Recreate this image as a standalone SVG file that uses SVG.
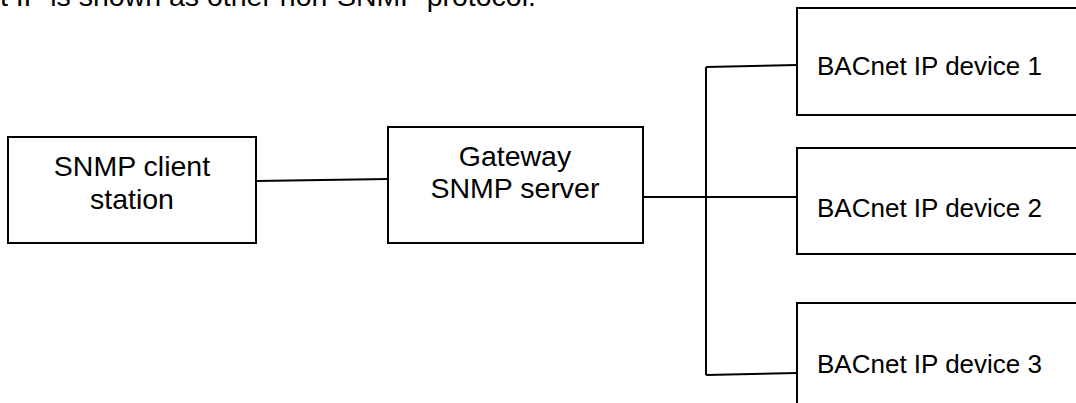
<svg xmlns="http://www.w3.org/2000/svg" width="1076" height="403" viewBox="0 0 1076 403">
<style>
.box{fill:#fff;stroke:#000;stroke-width:2}
.t{font-family:"Liberation Sans",Arial,sans-serif;font-size:28.5px;fill:#000}
.c{text-anchor:middle}
.b{font-size:26px}
.conn{fill:none;stroke:#000;stroke-width:2}
</style>
<rect width="1076" height="403" fill="#fff"/>
<text class="t" x="0" y="6" font-size="30">t IP  is shown as other non-SNMP  protocol.</text>
<g id="client">
<rect class="box" x="8" y="137" width="248" height="106"/>
<text class="t c" x="132" y="176">SNMP client</text>
<text class="t c" x="132" y="209">station</text>
</g>
<g id="gateway">
<rect class="box" x="388" y="127" width="255" height="116"/>
<text class="t c" x="515" y="166">Gateway</text>
<text class="t c" x="515" y="198">SNMP server</text>
</g>
<g id="dev1">
<rect class="box" x="797" y="8" width="300" height="107"/>
<text class="t b" x="817" y="75">BACnet IP device 1</text>
</g>
<g id="dev2">
<rect class="box" x="797" y="148" width="300" height="106"/>
<text class="t b" x="817" y="217">BACnet IP device 2</text>
</g>
<g id="dev3">
<rect class="box" x="797" y="303" width="300" height="120"/>
<text class="t b" x="817" y="373">BACnet IP device 3</text>
</g>
<g id="connectors">
<path class="conn" d="M256 181 L388 179"/>
<path class="conn" d="M643 197 H797"/>
<path class="conn" d="M706 67 V375"/>
<path class="conn" d="M706 67 L797 65"/>
<path class="conn" d="M706 375 L797 373"/>
</g>
</svg>
